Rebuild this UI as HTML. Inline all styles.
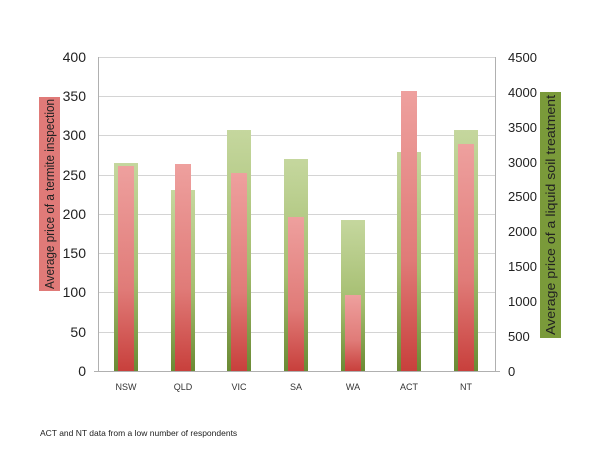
<!DOCTYPE html>
<html><head><style>body{margin:0;background:#fff}svg{display:block}</style></head><body>
<svg width="600" height="450" xmlns="http://www.w3.org/2000/svg" font-family="Liberation Sans, sans-serif">
<defs>
<linearGradient id="g" x1="0" y1="0" x2="0" y2="1"><stop offset="0" stop-color="#c5d79e"/><stop offset="0.55" stop-color="#a5be70"/><stop offset="1" stop-color="#6a8a34"/></linearGradient>
<linearGradient id="r" x1="0" y1="0" x2="0" y2="1"><stop offset="0" stop-color="#eea09e"/><stop offset="0.6" stop-color="#e07b78"/><stop offset="1" stop-color="#c8403c"/></linearGradient>
</defs>
<g stroke="#d4d4d4" stroke-width="1">
<line x1="98" x2="495" y1="57.5" y2="57.5"/><line x1="98" x2="495" y1="96.5" y2="96.5"/><line x1="98" x2="495" y1="135.5" y2="135.5"/><line x1="98" x2="495" y1="175.5" y2="175.5"/><line x1="98" x2="495" y1="214.5" y2="214.5"/><line x1="98" x2="495" y1="253.5" y2="253.5"/><line x1="98" x2="495" y1="292.5" y2="292.5"/><line x1="98" x2="495" y1="332.5" y2="332.5"/>
</g>
<g stroke="#b0b0b0"><line x1="98.5" x2="98.5" y1="57" y2="371"/><line x1="495.5" x2="495.5" y1="57" y2="371"/><line x1="94" x2="500" y1="371.5" y2="371.5"/></g>
<g fill="url(#g)">
<rect x="114" y="163" width="24" height="208"/><rect x="171" y="190" width="24" height="181"/><rect x="227" y="130" width="24" height="241"/><rect x="284" y="159" width="24" height="212"/><rect x="341" y="220" width="24" height="151"/><rect x="397" y="152" width="24" height="219"/><rect x="454" y="130" width="24" height="241"/>
</g>
<g fill="url(#r)">
<rect x="118" y="166" width="16" height="205"/><rect x="175" y="164" width="16" height="207"/><rect x="231" y="173" width="16" height="198"/><rect x="288" y="217" width="16" height="154"/><rect x="345" y="295" width="16" height="76"/><rect x="401" y="91" width="16" height="280"/><rect x="458" y="144" width="16" height="227"/>
</g>
<g font-size="14" fill="#222" text-anchor="end">
<text x="86" y="62">400</text><text x="86" y="101">350</text><text x="86" y="140">300</text><text x="86" y="180">250</text><text x="86" y="219">200</text><text x="86" y="258">150</text><text x="86" y="297">100</text><text x="86" y="337">50</text><text x="86" y="376">0</text>
</g>
<g font-size="13" fill="#222">
<text x="508" y="62">4500</text><text x="508" y="97">4000</text><text x="508" y="132">3500</text><text x="508" y="167">3000</text><text x="508" y="201">2500</text><text x="508" y="236">2000</text><text x="508" y="271">1500</text><text x="508" y="306">1000</text><text x="508" y="341">500</text><text x="508" y="376">0</text>
</g>
<g font-size="9" fill="#333" text-anchor="middle">
<text x="126" y="390">NSW</text><text x="183" y="390">QLD</text><text x="239" y="390">VIC</text><text x="296" y="390">SA</text><text x="353" y="390">WA</text><text x="409" y="390">ACT</text><text x="466" y="390">NT</text>
</g>
<rect x="39" y="97" width="21" height="194" fill="#e07a78"/>
<text transform="translate(54,194) rotate(-90)" font-size="13" fill="#222" text-anchor="middle" textLength="190" lengthAdjust="spacingAndGlyphs">Average price of a termite inspection</text>
<rect x="540" y="92" width="21" height="246" fill="#7a9a3a"/>
<text transform="translate(555,215) rotate(-90)" font-size="13" fill="#222" text-anchor="middle" textLength="240" lengthAdjust="spacingAndGlyphs">Average price of a liquid soil treatment</text>
<text x="40" y="436" font-size="8.5" fill="#222">ACT and NT data from a low number of respondents</text>
</svg>
</body></html>
